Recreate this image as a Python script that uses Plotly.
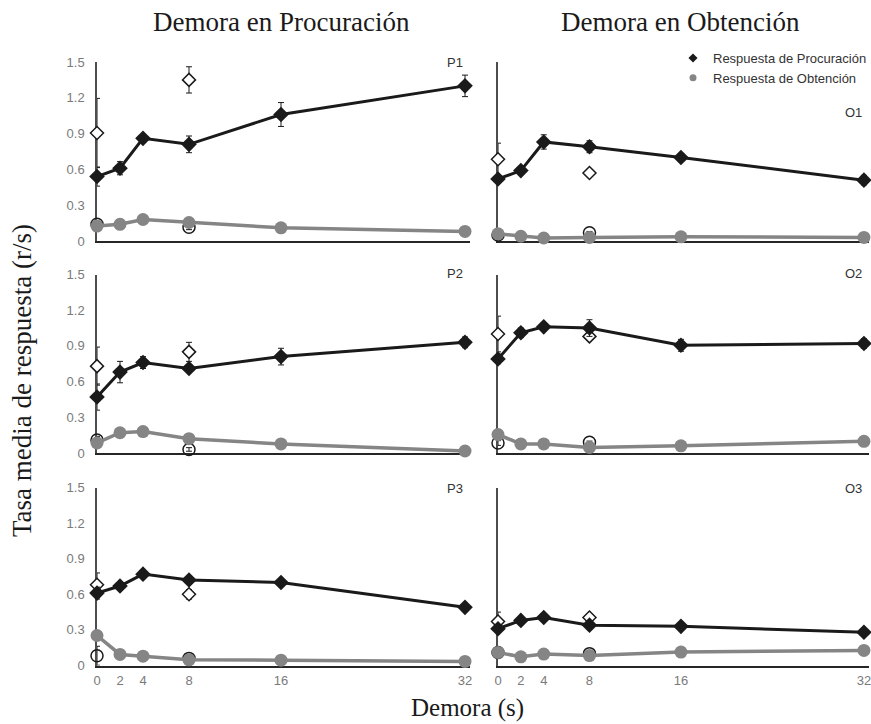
import plotly.graph_objects as go

# ---------------- data ----------------
DELAYS = [0, 2, 4, 8, 16, 32]
PROBE_DELAYS = [0, 8]
X_TICK_LABELS = ["0", "2", "4", "8", "16", "32"]
Y_TICKS = [0, 0.3, 0.6, 0.9, 1.2, 1.5]
Y_TICK_LABELS = ["0", "0.3", "0.6", "0.9", "1.2", "1.5"]

PANEL_NAMES = ["P1", "O1", "P2", "O2", "P3", "O3"]
COL_TITLES = ["Demora en Procuración", "Demora en Obtención"]
SERIES_NAMES = ["Respuesta de Procuración", "Respuesta de Obtención"]

# Procuration responses (filled diamonds)
P1_proc = [0.54, 0.61, 0.86, 0.81, 1.06, 1.30]
P1_proc_err = [0.08, 0.055, 0.03, 0.07, 0.10, 0.09]
O1_proc = [0.52, 0.59, 0.83, 0.79, 0.70, 0.51]
O1_proc_err = [0.03, 0.02, 0.06, 0.05, 0.03, 0.04]
P2_proc = [0.47, 0.68, 0.76, 0.71, 0.81, 0.93]
P2_proc_err = [0.11, 0.09, 0.05, 0.02, 0.07, 0.045]
O2_proc = [0.79, 1.01, 1.06, 1.05, 0.905, 0.92]
O2_proc_err = [0.04, 0.04, 0.02, 0.07, 0.05, 0.04]
P3_proc = [0.61, 0.67, 0.77, 0.72, 0.70, 0.49]
P3_proc_err = [0.05, 0.03, 0.02, 0.02, 0.02, 0.02]
O3_proc = [0.31, 0.38, 0.405, 0.34, 0.33, 0.28]
O3_proc_err = [0.02, 0.02, 0.02, 0.02, 0.02, 0.02]

# Obtention responses (filled circles)
P1_obt = [0.125, 0.14, 0.18, 0.155, 0.11, 0.08]
P1_obt_err = [0.02, 0.01, 0.01, 0.04, 0.01, 0.01]
O1_obt = [0.06, 0.04, 0.025, 0.03, 0.035, 0.03]
O1_obt_err = [0.01, 0.01, 0.01, 0.01, 0.01, 0.01]
P2_obt = [0.085, 0.17, 0.18, 0.12, 0.076, 0.017]
P2_obt_err = [0.02, 0.01, 0.01, 0.01, 0.01, 0.01]
O2_obt = [0.155, 0.076, 0.076, 0.047, 0.06, 0.098]
O2_obt_err = [0.01, 0.01, 0.01, 0.01, 0.01, 0.01]
P3_obt = [0.253, 0.093, 0.079, 0.048, 0.045, 0.034]
P3_obt_err = [0.01, 0.01, 0.01, 0.01, 0.01, 0.01]
O3_obt = [0.11, 0.073, 0.096, 0.084, 0.113, 0.127]
O3_obt_err = [0.01, 0.01, 0.01, 0.01, 0.01, 0.01]

# Probe responses (open diamonds / open circles) at delays 0 and 8
P1_probe_proc = [0.905, 1.35]
P1_probe_proc_err = [0.29, 0.11]
O1_probe_proc = [0.685, 0.57]
O1_probe_proc_err = [0.135, 0.03]
P2_probe_proc = [0.73, 0.85]
P2_probe_proc_err = [0.16, 0.08]
O2_probe_proc = [1.0, 0.98]
O2_probe_proc_err = [0.15, 0.02]
P3_probe_proc = [0.68, 0.60]
P3_probe_proc_err = [0.10, 0.04]
O3_probe_proc = [0.37, 0.405]
O3_probe_proc_err = [0.08, 0.02]

P1_probe_obt = [0.14, 0.115]
P1_probe_obt_err = [0.02, 0.02]
O1_probe_obt = [0.05, 0.07]
O1_probe_obt_err = [0.01, 0.01]
P2_probe_obt = [0.11, 0.03]
P2_probe_obt_err = [0.03, 0.015]
O2_probe_obt = [0.084, 0.09]
O2_probe_obt_err = [0.02, 0.01]
P3_probe_obt = [0.082, 0.06]
P3_probe_obt_err = [0.08, 0.01]
O3_probe_obt = [0.11, 0.10]
O3_probe_obt_err = [0.01, 0.01]

PANELS = [
    (P1_proc, P1_proc_err, P1_obt, P1_obt_err, P1_probe_proc, P1_probe_proc_err, P1_probe_obt, P1_probe_obt_err),
    (O1_proc, O1_proc_err, O1_obt, O1_obt_err, O1_probe_proc, O1_probe_proc_err, O1_probe_obt, O1_probe_obt_err),
    (P2_proc, P2_proc_err, P2_obt, P2_obt_err, P2_probe_proc, P2_probe_proc_err, P2_probe_obt, P2_probe_obt_err),
    (O2_proc, O2_proc_err, O2_obt, O2_obt_err, O2_probe_proc, O2_probe_proc_err, O2_probe_obt, O2_probe_obt_err),
    (P3_proc, P3_proc_err, P3_obt, P3_obt_err, P3_probe_proc, P3_probe_proc_err, P3_probe_obt, P3_probe_obt_err),
    (O3_proc, O3_proc_err, O3_obt, O3_obt_err, O3_probe_proc, O3_probe_proc_err, O3_probe_obt, O3_probe_obt_err),
]

# ---------------- layout geometry (page pixels -> figure fractions) ----------------
W, H = 871, 724


def fx(px):
    return px / W


def fy(py):
    return 1 - py / H


X_DOMAINS = [[fx(97), fx(469.6)], [fx(498), fx(868.5)]]
Y_DOMAINS = [[fy(241), fy(62)], [fy(453), fy(274.5)], [fy(665.5), fy(487.5)]]

BLACK = "#1a1a1a"
GRAY = "#858585"
TICK_GRAY = "#7a7a7a"
SANS = "Liberation Sans"
SERIF = "Liberation Serif"

fig = go.Figure()
layout = dict(
    template="none",
    width=W, height=H, autosize=False,
    margin=dict(l=0, r=0, t=0, b=0, pad=0, autoexpand=False),
    paper_bgcolor="white", plot_bgcolor="white",
    showlegend=True,
)

annotations = []
for i, data in enumerate(PANELS):
    proc, proc_err, obt, obt_err, pproc, pproc_err, pobt, pobt_err = data
    row, col = divmod(i, 2)
    n = i + 1
    xa = "x" if n == 1 else f"x{n}"
    ya = "y" if n == 1 else f"y{n}"
    err_style = dict(type="data", visible=True, color=BLACK, thickness=1, width=3)

    fig.add_trace(go.Scatter(
        x=PROBE_DELAYS, y=pobt, mode="markers", xaxis=xa, yaxis=ya, showlegend=False,
        marker=dict(symbol="circle-open", size=12, color=BLACK, line=dict(width=1.5)),
        error_y=dict(array=pobt_err, **err_style), cliponaxis=False, hoverinfo="skip"))
    fig.add_trace(go.Scatter(
        x=DELAYS, y=obt, mode="lines+markers", xaxis=xa, yaxis=ya, showlegend=False,
        line=dict(color=GRAY, width=3.5),
        marker=dict(symbol="circle", size=13, color=GRAY),
        error_y=dict(array=obt_err, **err_style), cliponaxis=False))
    fig.add_trace(go.Scatter(
        x=PROBE_DELAYS, y=pproc, mode="markers", xaxis=xa, yaxis=ya, showlegend=False,
        marker=dict(symbol="diamond", size=10, color="white", line=dict(color=BLACK, width=1.5)),
        error_y=dict(array=pproc_err, **err_style), cliponaxis=False))
    fig.add_trace(go.Scatter(
        x=DELAYS, y=proc, mode="lines+markers", xaxis=xa, yaxis=ya, showlegend=False,
        line=dict(color=BLACK, width=3),
        marker=dict(symbol="diamond", size=12, color=BLACK),
        error_y=dict(array=proc_err, **err_style), cliponaxis=False))

    xkey = "xaxis" if n == 1 else f"xaxis{n}"
    ykey = "yaxis" if n == 1 else f"yaxis{n}"
    layout[xkey] = dict(
        domain=X_DOMAINS[col], anchor=ya, range=[0, 32.4], automargin=False,
        showgrid=False, zeroline=False, showline=True, linecolor="#262626", linewidth=2,
        tickvals=DELAYS, ticktext=X_TICK_LABELS, ticks="", ticklabeloverflow="allow",
        showticklabels=(row == 2), tickfont=dict(family=SANS, size=13, color=TICK_GRAY),
        ticklabelstandoff=2, layer="below traces",
    )
    layout[ykey] = dict(
        domain=Y_DOMAINS[row], anchor=xa, range=[0, 1.5], automargin=False,
        showgrid=False, zeroline=False, showline=True, linecolor="#4d4d4d", linewidth=1.5,
        tickvals=Y_TICKS, ticktext=Y_TICK_LABELS, ticks="",
        showticklabels=(col == 0), tickfont=dict(family=SANS, size=13, color=TICK_GRAY),
        ticklabelstandoff=8, layer="below traces",
    )

# panel labels (page pixel centres)
PANEL_LABEL_POS = [(455, 62), (853, 112), (455, 273), (853, 273), (455, 488), (853, 488)]
for name, (px, py) in zip(PANEL_NAMES, PANEL_LABEL_POS):
    annotations.append(dict(
        text=name, xref="paper", yref="paper", x=fx(px), y=fy(py),
        xanchor="center", yanchor="middle", showarrow=False,
        font=dict(family=SANS, size=13, color="#333333")))

# legend entries
fig.add_trace(go.Scatter(x=[None], y=[None], mode="markers", name=SERIES_NAMES[0],
                         marker=dict(symbol="diamond", size=7, color=BLACK)))
fig.add_trace(go.Scatter(x=[None], y=[None], mode="markers", name=SERIES_NAMES[1],
                         marker=dict(symbol="circle", size=7, color=GRAY)))

layout["legend"] = dict(
    x=fx(673), y=fy(43), xanchor="left", yanchor="top",
    font=dict(family=SANS, size=13, color="#333333"),
    bgcolor="rgba(0,0,0,0)", itemwidth=30, tracegroupgap=0,
)

TITLE_FONT = dict(family=SERIF, size=27, color="#1a1a1a")
annotations.append(dict(text=COL_TITLES[0], xref="paper", yref="paper", x=fx(281), y=fy(22),
                        showarrow=False, xanchor="center", yanchor="middle", font=TITLE_FONT))
annotations.append(dict(text=COL_TITLES[1], xref="paper", yref="paper", x=fx(680), y=fy(22),
                        showarrow=False, xanchor="center", yanchor="middle", font=TITLE_FONT))
annotations.append(dict(text="Tasa media de respuesta (r/s)", xref="paper", yref="paper",
                        x=fx(22), y=fy(381), textangle=-90, showarrow=False,
                        xanchor="center", yanchor="middle", font=TITLE_FONT))
annotations.append(dict(text="Demora (s)", xref="paper", yref="paper", x=fx(467), y=fy(708),
                        showarrow=False, xanchor="center", yanchor="middle",
                        font=dict(family=SERIF, size=25, color="#1a1a1a")))
layout["annotations"] = annotations

fig.update_layout(**layout)
fig.write_html("out.html", config={"displayModeBar": False},
               post_script="document.body.style.margin='0';")
